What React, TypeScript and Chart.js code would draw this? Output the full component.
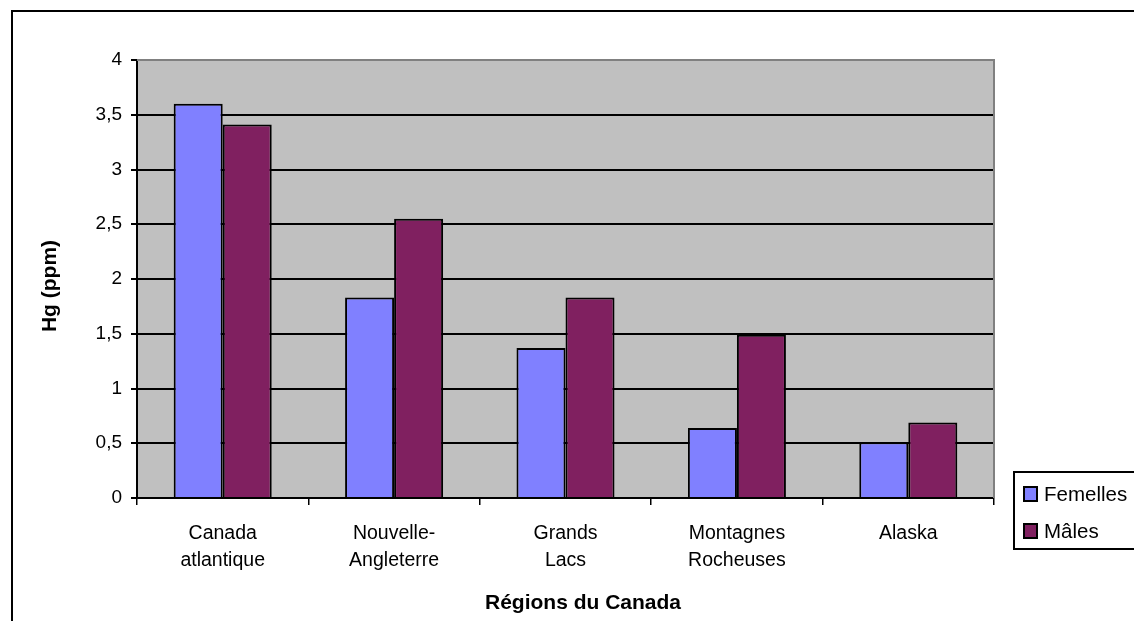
import React, { useEffect, useRef } from "react";
import { Chart, registerables } from "chart.js";

Chart.register(...registerables);

const categories: string[][] = [
  ["Canada", "atlantique"],
  ["Nouvelle-", "Angleterre"],
  ["Grands", "Lacs"],
  ["Montagnes", "Rocheuses"],
  ["Alaska"],
];
const femelles = [3.6, 1.83, 1.37, 0.64, 0.51];
const males = [3.41, 2.55, 1.83, 1.49, 0.69];
const seriesNames = ["Femelles", "Mâles"];
const seriesColors = ["#8080FF", "#802060"];
const yTitle = "Hg (ppm)";
const xTitle = "Régions du Canada";

const FONT = "'Liberation Sans', Arial, sans-serif";

const decor = {
  id: "decor",
  beforeDraw(chart: any) {
    const { ctx, chartArea: a, width, height } = chart;
    ctx.save();
    ctx.fillStyle = "#ffffff";
    ctx.fillRect(0, 0, width, height);
    ctx.fillStyle = "#C0C0C0";
    ctx.fillRect(a.left, a.top, a.right - a.left, a.bottom - a.top);
    ctx.restore();
  },
  afterDraw(chart: any) {
    const { ctx, chartArea: a } = chart;
    ctx.save();
    // plot border top/right (grey)
    ctx.strokeStyle = "#808080";
    ctx.lineWidth = 2;
    ctx.beginPath();
    ctx.moveTo(a.left, a.top);
    ctx.lineTo(a.right, a.top);
    ctx.lineTo(a.right, a.bottom);
    ctx.stroke();
    // outer chart border
    ctx.strokeStyle = "#000";
    ctx.lineWidth = 2;
    ctx.beginPath();
    ctx.moveTo(12, 700);
    ctx.lineTo(12, 11);
    ctx.lineTo(1200, 11);
    ctx.stroke();
    // titles
    ctx.fillStyle = "#000";
    ctx.font = `bold 21px ${FONT}`;
    ctx.textAlign = "center";
    ctx.textBaseline = "middle";
    ctx.fillText(xTitle, 583, 603);
    ctx.save();
    ctx.translate(50, 286);
    ctx.rotate(-Math.PI / 2);
    ctx.fillText(yTitle, 0, 0);
    ctx.restore();
    // legend
    ctx.lineWidth = 2;
    ctx.strokeStyle = "#000";
    ctx.strokeRect(1014, 472, 140, 77);
    ctx.font = `20.5px ${FONT}`;
    ctx.textAlign = "left";
    const ys = [494, 531];
    seriesNames.forEach((n, i) => {
      ctx.fillStyle = seriesColors[i];
      ctx.fillRect(1024, ys[i] - 7, 13, 14);
      ctx.strokeRect(1024, ys[i] - 7, 13, 14);
      ctx.fillStyle = "#000";
      ctx.fillText(n, 1044, ys[i] + 1);
    });
    ctx.restore();
  },
};

export default function App() {
  const ref = useRef<HTMLCanvasElement>(null);
  useEffect(() => {
    if (!ref.current) return;
    const chart = new Chart(ref.current, {
      type: "bar",
      data: {
        labels: categories as any,
        datasets: [
          {
            label: seriesNames[0],
            data: femelles,
            backgroundColor: seriesColors[0],
            borderColor: "#000",
            borderWidth: 2,
            categoryPercentage: 0.572,
            barPercentage: 1,
          },
          {
            label: seriesNames[1],
            data: males,
            backgroundColor: seriesColors[1],
            borderColor: "#000",
            borderWidth: 2,
            categoryPercentage: 0.572,
            barPercentage: 1,
          },
        ],
      },
      options: {
        responsive: false,
        animation: false,
        layout: { padding: { top: 60, right: 140, left: 0, bottom: 0 } },
        plugins: { legend: { display: false }, tooltip: { enabled: false } },
        scales: {
          x: {
            afterFit: (s: any) => {
              s.height = 123;
            },
            grid: {
              offset: true,
              drawOnChartArea: false,
              drawTicks: true,
              tickLength: 7,
              color: "#000",
              lineWidth: 1.5,
            },
            border: { display: true, color: "#000", width: 2 },
            ticks: {
              color: "#000",
              font: { family: FONT, size: 19.5, lineHeight: 1.34 },
              padding: 16,
              maxRotation: 0,
              autoSkip: false,
            },
          },
          y: {
            min: 0,
            max: 4,
            afterFit: (s: any) => {
              s.width = 137;
            },
            grid: {
              color: "#000",
              lineWidth: 2,
              drawTicks: true,
              tickLength: 6,
            },
            border: { display: true, color: "#000", width: 2 },
            ticks: {
              stepSize: 0.5,
              color: "#000",
              font: { family: FONT, size: 19 },
              padding: 9,
              callback: (v: any) => String(v).replace(".", ","),
            },
          },
        },
      },
      plugins: [decor],
    });
    return () => chart.destroy();
  }, []);
  return (
    <div style={{ position: "fixed", left: 0, top: 0, width: 1134, height: 621 }}>
      <canvas ref={ref} width={1134} height={621} style={{ display: "block" }} />
    </div>
  );
}
